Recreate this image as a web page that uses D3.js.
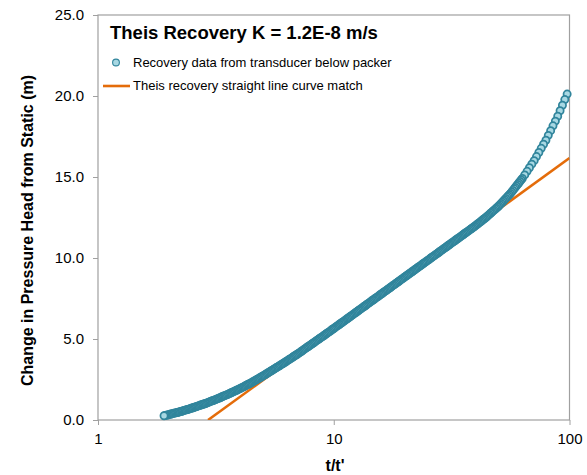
<!DOCTYPE html>
<html><head><meta charset="utf-8">
<script src="https://cdn.jsdelivr.net/npm/d3@7"></script>
<style>body{margin:0;background:#fff} svg{display:block;font-family:Arial,"Liberation Sans",sans-serif}</style>
</head><body><svg id="c" width="587" height="475"></svg>
<script>
// Recovery data: t/t' and change in pressure head (m), in recorded order
const tRatio=[
97.72,95.50,93.33,91.20,89.13,87.10,85.11,83.18,81.28,79.43,77.62,75.86,74.13,72.44,70.79,69.18,67.61,66.07,64.57,63.10,
62.37,61.66,60.95,60.26,59.56,58.88,58.21,57.54,56.88,56.23,55.59,54.95,54.33,53.70,53.09,52.48,51.88,51.29,50.70,50.12,
49.55,48.98,48.42,47.86,47.32,46.77,46.24,45.71,45.19,44.67,44.16,43.65,43.15,42.66,42.17,41.69,41.21,40.74,40.27,39.81,
39.36,38.91,38.46,38.02,37.58,37.15,36.73,36.31,35.89,35.48,35.08,34.67,34.28,33.88,33.50,33.11,32.73,32.36,31.99,31.62,
31.26,30.90,30.55,30.20,29.85,29.51,29.17,28.84,28.51,28.18,27.86,27.54,27.23,26.92,26.61,26.30,26.00,25.70,25.41,25.12,
24.83,24.55,24.27,23.99,23.71,23.44,23.17,22.91,22.65,22.39,22.13,21.88,21.63,21.38,21.14,20.89,20.65,20.42,20.18,19.95,
19.72,19.50,19.28,19.06,18.84,18.62,18.41,18.20,17.99,17.78,17.58,17.38,17.18,16.98,16.79,16.60,16.41,16.22,16.03,15.85,
15.67,15.49,15.31,15.14,14.96,14.79,14.62,14.45,14.29,14.13,13.96,13.80,13.65,13.49,13.34,13.18,13.03,12.88,12.74,12.59,
12.45,12.30,12.16,12.02,11.89,11.75,11.62,11.48,11.35,11.22,11.09,10.97,10.84,10.72,10.59,10.47,10.35,10.23,10.12,
10.00,9.886,9.772,9.661,9.550,9.441,9.333,9.226,9.120,9.016,8.913,8.811,8.710,8.610,8.511,8.414,8.318,8.222,8.128,8.035,
7.943,7.852,7.763,7.674,7.586,7.499,7.413,7.328,7.244,7.162,7.079,6.998,6.918,6.839,6.761,6.683,6.607,6.531,6.457,6.383,
6.310,6.237,6.166,6.095,6.026,5.957,5.888,5.821,5.754,5.689,5.623,5.559,5.495,5.433,5.370,5.309,5.248,5.188,5.129,5.070,
5.012,4.955,4.898,4.842,4.786,4.732,4.677,4.624,4.571,4.519,4.467,4.416,4.365,4.315,4.266,4.217,4.169,4.121,4.074,4.027,
3.981,3.936,3.891,3.846,3.802,3.758,3.715,3.673,3.631,3.589,3.548,3.508,3.467,3.428,3.388,3.350,3.311,3.273,3.236,3.199,
3.162,3.126,3.090,3.055,3.020,2.985,2.951,2.917,2.884,2.851,2.818,2.786,2.754,2.723,2.692,2.661,2.630,2.600,2.570,2.541,
2.512,2.483,2.455,2.427,2.399,2.371,2.344,2.317,2.291,2.265,2.239,2.213,2.188,2.163,2.138,2.114,2.089,2.065,2.042,2.018,
1.995,1.972,1.950,1.928,1.906
];
const headChange=[
20.12,19.78,19.43,19.09,18.75,18.45,18.16,17.86,17.57,17.27,17.02,16.77,16.51,16.26,16.01,15.79,15.57,15.35,15.13,14.91,
14.82,14.73,14.63,14.54,14.45,14.36,14.27,14.17,14.08,13.99,13.91,13.83,13.76,13.68,13.60,13.52,13.44,13.37,13.29,13.21,
13.15,13.08,13.02,12.95,12.89,12.82,12.76,12.69,12.63,12.56,12.50,12.44,12.39,12.33,12.27,12.21,12.15,12.10,12.04,11.98,
11.93,11.87,11.82,11.77,11.72,11.66,11.61,11.56,11.51,11.45,11.40,11.35,11.29,11.24,11.19,11.14,11.08,11.03,10.98,10.93,
10.87,10.82,10.77,10.71,10.66,10.61,10.56,10.50,10.45,10.40,10.34,10.29,10.24,10.19,10.13,10.08,10.03,9.98,9.92,9.87,
9.82,9.76,9.71,9.66,9.61,9.55,9.50,9.45,9.40,9.34,9.29,9.24,9.18,9.13,9.08,9.03,8.97,8.92,8.87,8.82,
8.76,8.71,8.66,8.60,8.55,8.50,8.45,8.39,8.34,8.29,8.23,8.18,8.13,8.08,8.02,7.97,7.92,7.87,7.81,7.76,
7.71,7.65,7.60,7.55,7.50,7.44,7.39,7.34,7.29,7.23,7.18,7.13,7.07,7.02,6.97,6.92,6.86,6.81,6.76,6.71,
6.65,6.60,6.55,6.49,6.44,6.39,6.34,6.28,6.23,6.18,6.12,6.07,6.02,5.97,5.91,5.86,5.81,5.76,5.70,
5.65,5.60,5.55,5.49,5.44,5.39,5.34,5.29,5.23,5.18,5.13,5.08,5.03,4.98,4.93,4.88,4.82,4.77,4.72,4.67,
4.62,4.57,4.52,4.47,4.42,4.37,4.31,4.26,4.21,4.16,4.11,4.06,4.01,3.97,3.92,3.87,3.82,3.77,3.73,3.68,
3.63,3.58,3.54,3.49,3.45,3.40,3.35,3.31,3.26,3.22,3.17,3.13,3.08,3.04,2.99,2.95,2.90,2.86,2.81,2.77,
2.72,2.68,2.64,2.59,2.55,2.51,2.47,2.43,2.38,2.34,2.30,2.26,2.22,2.19,2.15,2.11,2.07,2.03,2.00,1.96,
1.92,1.89,1.85,1.82,1.78,1.75,1.72,1.68,1.65,1.61,1.58,1.55,1.52,1.49,1.46,1.43,1.39,1.36,1.33,1.30,
1.27,1.24,1.21,1.19,1.16,1.13,1.10,1.07,1.04,1.02,0.99,0.97,0.94,0.92,0.89,0.87,0.84,0.82,0.79,0.77,
0.74,0.72,0.70,0.67,0.65,0.63,0.61,0.59,0.56,0.54,0.52,0.50,0.48,0.46,0.44,0.43,0.41,0.39,0.37,0.35,
0.33,0.31,0.30,0.28,0.26
];
// Straight line curve match (end points)
const fitT=[2.93,100];
const fitH=[0,16.17];
const xTicks=[1,10,100];
const yTicks=[0,5,10,15,20,25];
const chartTitle="Theis Recovery K = 1.2E-8 m/s";
const legendLabels=["Recovery data from transducer below packer","Theis recovery straight line curve match"];
const xTitle="t/t'";
const yTitle="Change in Pressure Head from Static (m)";

const svg=d3.select("#c");
const L=98,R=569.5,T=15,B=420;
const x=d3.scaleLog().domain([1,100]).range([L,R]);
const y=d3.scaleLinear().domain([0,25]).range([B,T]);
const axisCol="#a0a0a0", ptFill="#a8d8e3", ptStroke="#31859c", lineCol="#e46c0a";
const ptR=3.6, ptW=1.75;

svg.append("defs").append("clipPath").attr("id","pc")
  .append("rect").attr("x",L).attr("y",T).attr("width",R-L).attr("height",B-T);

// Y axis
const ya=svg.append("g").attr("transform",`translate(${L},0)`)
  .call(d3.axisLeft(y).tickValues(yTicks).tickFormat(d3.format(".1f")).tickSize(5).tickSizeOuter(0).tickPadding(9));
ya.select(".domain").remove();
ya.selectAll("line").attr("stroke",axisCol);
ya.selectAll("text").attr("font-size",15).attr("fill","#000").attr("font-family","Arial, 'Liberation Sans', sans-serif");

// X axis
const xa=svg.append("g").attr("transform",`translate(0,${B})`)
  .call(d3.axisBottom(x).tickValues(xTicks).tickFormat(d3.format("d")).tickSize(5).tickSizeOuter(0).tickPadding(8));
xa.select(".domain").remove();
xa.selectAll("line").attr("stroke",axisCol);
xa.selectAll("text").attr("font-size",15).attr("fill","#000").attr("font-family","Arial, 'Liberation Sans', sans-serif");

// Frame
svg.append("rect").attr("x",L).attr("y",T).attr("width",R-L).attr("height",B-T)
  .attr("fill","none").attr("stroke",axisCol).attr("stroke-width",1.2);

// Fit line
const fitData=fitT.map((t,i)=>[t,fitH[i]]);
svg.append("path").datum(fitData).attr("clip-path","url(#pc)")
  .attr("d",d3.line().x(d=>x(d[0])).y(d=>y(d[1])))
  .attr("fill","none").attr("stroke",lineCol).attr("stroke-width",2.6);

// Points
const pts=tRatio.map((t,i)=>[t,headChange[i]]);
svg.append("g").selectAll("circle").data(pts).join("circle")
  .attr("cx",d=>x(d[0])).attr("cy",d=>y(d[1])).attr("r",ptR)
  .attr("fill",ptFill).attr("stroke",ptStroke).attr("stroke-width",ptW);

// Title
svg.append("text").attr("x",110).attr("y",38.5).attr("font-size",18.5).attr("font-weight","bold")
  .attr("fill","#000").text(chartTitle);

// Legend
svg.append("circle").attr("cx",116).attr("cy",62.5).attr("r",3.4)
  .attr("fill",ptFill).attr("stroke",ptStroke).attr("stroke-width",1.1);
svg.append("text").attr("x",133).attr("y",67).attr("font-size",13).attr("fill","#000").text(legendLabels[0]);
svg.append("line").attr("x1",103).attr("x2",130).attr("y1",86).attr("y2",86)
  .attr("stroke",lineCol).attr("stroke-width",2.6);
svg.append("text").attr("x",133).attr("y",89.5).attr("font-size",13).attr("fill","#000").text(legendLabels[1]);

// Axis titles
svg.append("text").attr("x",335).attr("y",471).attr("text-anchor","middle")
  .attr("font-size",16).attr("font-weight","bold").attr("fill","#000").text(xTitle);
svg.append("text").attr("transform","translate(27,230.5) rotate(-90)").attr("text-anchor","middle")
  .attr("dominant-baseline","central").attr("font-size",16).attr("font-weight","bold").attr("fill","#000").text(yTitle);
</script></body></html>
